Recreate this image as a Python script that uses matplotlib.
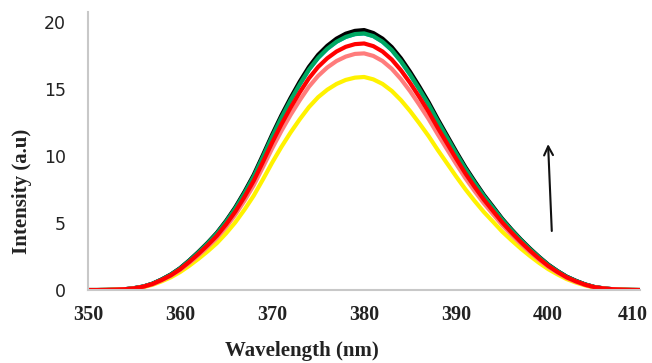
import matplotlib
matplotlib.use('Agg')
import matplotlib.pyplot as plt
from matplotlib.transforms import ScaledTranslation

# wavelength grid (nm), 1 nm steps, intensities
wavelength = list(range(350, 411))

black = [0.0, 0.0, 0.01, 0.03, 0.06, 0.14, 0.26, 0.47, 0.79, 1.16,
         1.63, 2.21, 2.85, 3.53, 4.27, 5.16, 6.17, 7.33, 8.59, 10.07,
         11.59, 13.02, 14.33, 15.55, 16.65, 17.55, 18.23, 18.76, 19.13, 19.34,
         19.4, 19.18, 18.76, 18.13, 17.29, 16.28, 15.18, 14.02, 12.75, 11.54,
         10.33, 9.17, 8.12, 7.11, 6.22, 5.32, 4.53, 3.79, 3.11, 2.48,
         1.9, 1.42, 1.0, 0.69, 0.42, 0.23, 0.13, 0.06, 0.03, 0.01, 0.0]
cyan = [0.0, 0.0, 0.01, 0.03, 0.06, 0.14, 0.26, 0.47, 0.78, 1.15,
        1.61, 2.19, 2.81, 3.49, 4.22, 5.1, 6.09, 7.23, 8.48, 9.94,
        11.45, 12.86, 14.16, 15.35, 16.45, 17.33, 18.01, 18.53, 18.89, 19.1,
        19.15, 18.95, 18.53, 17.91, 17.07, 16.08, 14.99, 13.85, 12.6, 11.4,
        10.2, 9.06, 8.02, 7.03, 6.14, 5.26, 4.48, 3.75, 3.07, 2.45,
        1.87, 1.41, 0.99, 0.68, 0.42, 0.23, 0.12, 0.06, 0.03, 0.01, 0.0]
green = [0.0, 0.0, 0.01, 0.03, 0.06, 0.14, 0.26, 0.47, 0.78, 1.15,
         1.61, 2.19, 2.81, 3.49, 4.22, 5.1, 6.09, 7.23, 8.48, 9.94,
         11.45, 12.86, 14.16, 15.35, 16.45, 17.33, 18.01, 18.53, 18.89, 19.1,
         19.15, 18.95, 18.53, 17.91, 17.07, 16.08, 14.99, 13.85, 12.6, 11.4,
         10.2, 9.06, 8.02, 7.03, 6.14, 5.26, 4.48, 3.75, 3.07, 2.45,
         1.87, 1.41, 0.99, 0.68, 0.42, 0.23, 0.12, 0.06, 0.03, 0.01, 0.0]
yellow = [0.0, 0.0, 0.01, 0.03, 0.05, 0.11, 0.22, 0.39, 0.65, 0.95,
          1.34, 1.81, 2.33, 2.89, 3.5, 4.23, 5.05, 6.0, 7.04, 8.25,
          9.5, 10.67, 11.75, 12.74, 13.65, 14.39, 14.95, 15.38, 15.68, 15.85,
          15.9, 15.72, 15.38, 14.86, 14.17, 13.35, 12.44, 11.49, 10.45, 9.46,
          8.47, 7.52, 6.65, 5.83, 5.1, 4.36, 3.72, 3.11, 2.55, 2.03,
          1.56, 1.17, 0.82, 0.56, 0.35, 0.19, 0.1, 0.05, 0.03, 0.01, 0.0]
salmon = [0.0, 0.0, 0.01, 0.03, 0.06, 0.12, 0.24, 0.43, 0.72, 1.06,
          1.49, 2.02, 2.59, 3.22, 3.89, 4.7, 5.62, 6.67, 7.82, 9.17,
          10.56, 11.86, 13.06, 14.16, 15.17, 15.98, 16.61, 17.09, 17.42, 17.62,
          17.66, 17.47, 17.09, 16.51, 15.74, 14.83, 13.82, 12.77, 11.62, 10.51,
          9.41, 8.35, 7.39, 6.48, 5.66, 4.85, 4.13, 3.46, 2.83, 2.26,
          1.73, 1.3, 0.91, 0.62, 0.38, 0.21, 0.12, 0.06, 0.03, 0.01, 0.0]
red = [0.0, 0.0, 0.01, 0.03, 0.06, 0.13, 0.25, 0.45, 0.75, 1.1,
       1.55, 2.1, 2.7, 3.35, 4.05, 4.9, 5.85, 6.95, 8.15, 9.55,
       11.0, 12.35, 13.6, 14.75, 15.8, 16.65, 17.3, 17.8, 18.15, 18.35,
       18.4, 18.2, 17.8, 17.2, 16.4, 15.45, 14.4, 13.3, 12.1, 10.95,
       9.8, 8.7, 7.7, 6.75, 5.9, 5.05, 4.3, 3.6, 2.95, 2.35,
       1.8, 1.35, 0.95, 0.65, 0.4, 0.22, 0.12, 0.06, 0.03, 0.01, 0.0]

x_ticks = [350, 360, 370, 380, 390, 400, 410]
y_ticks = [0, 5, 10, 15, 20]

fig = plt.figure(figsize=(6.52, 3.63), dpi=100)
ax = fig.add_axes([0.135, 0.201, 0.847, 0.766])

series = [
    (cyan, '#00B0F0'),
    (black, '#000000'),
    (green, '#00A862'),
    (yellow, '#FFF200'),
    (salmon, '#FF7C7C'),
    (red, '#FF0000'),
]
for vals, col in series:
    ax.plot(wavelength, vals, color=col, lw=3.0, solid_capstyle='butt',
            solid_joinstyle='round')

ax.set_xlim(350, 410)
ax.set_ylim(0, 20.75)
ax.set_xticks(x_ticks)
ax.set_yticks(y_ticks)
ax.tick_params(length=0)
ax.tick_params(axis='x', pad=11)
ax.tick_params(axis='y', pad=16)
for lab in ax.get_xticklabels():
    lab.set_fontfamily('Liberation Serif')
    lab.set_fontweight('bold')
    lab.set_fontsize(14.5)
    lab.set_color('#222222')
# last label sits against the figure edge
last = ax.get_xticklabels()[-1]
last.set_transform(last.get_transform() +
                   ScaledTranslation(-8 / 100, 0, fig.dpi_scale_trans))
for lab in ax.get_yticklabels():
    lab.set_fontfamily('DejaVu Sans')
    lab.set_fontsize(12.5)
    lab.set_color('#222222')

for side in ['top', 'right']:
    ax.spines[side].set_visible(False)
for side in ['left', 'bottom']:
    ax.spines[side].set_color('#C8C8C8')
    ax.spines[side].set_linewidth(1.5)

# trend arrow
ax.annotate('', xy=(399.97, 11.1), xytext=(400.4, 4.2),
            arrowprops=dict(arrowstyle='->', color='#111111', lw=1.5,
                            mutation_scale=16))

fig.text(0.463, 0.033, 'Wavelength (nm)', ha='center', va='center',
         family='Liberation Serif', fontweight='bold', fontsize=15,
         color='#222222')
fig.text(0.034, 0.474, 'Intensity (a.u)', ha='center', va='center',
         rotation=90, family='Liberation Serif', fontweight='bold',
         fontsize=15, color='#222222')

fig.savefig('out.png', dpi=100)
